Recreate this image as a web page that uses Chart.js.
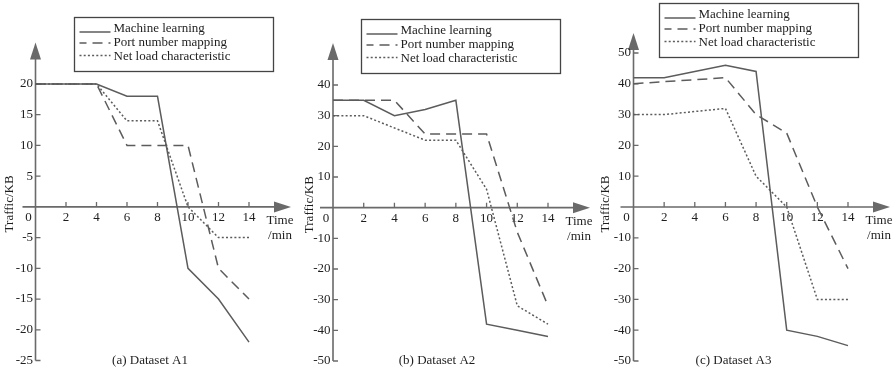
<!DOCTYPE html>
<html>
<head>
<meta charset="utf-8">
<title>Traffic per dataset</title>
<script src="https://cdn.jsdelivr.net/npm/chart.js@4.4.1/dist/chart.umd.min.js"></script>
<style>
  body { margin: 0; background: #fff; }
  #wrap { position: relative; width: 896px; height: 375px; overflow: hidden; }
  #wrap canvas { position: absolute; top: 0; }
</style>
</head>
<body>
<div id="wrap">
  <canvas id="chartA1" width="300" height="375" style="left:0px"></canvas>
  <canvas id="chartA2" width="300" height="375" style="left:300px"></canvas>
  <canvas id="chartA3" width="300" height="375" style="left:596px"></canvas>
</div>
<script>
// values (time in min, traffic in KB)
const timeMin = [0, 2, 4, 6, 8, 10, 12, 14];
const xTicks = [0, 2, 4, 6, 8, 10, 12, 14];
const seriesNames = ["Machine learning", "Port number mapping", "Net load characteristic"];

const a1Machine = [20, 20, 20, 18, 18, -10, -15, -22];
const a1Port = [20, 20, 20, 10, 10, 10, -10, -15];
const a1NetLoad = [20, 20, 20, 14, 14, 0, -5, -5];
const a1YTicks = [20, 15, 10, 5, 0, -5, -10, -15, -20, -25];

const a2Machine = [35, 35, 30, 32, 35, -38, -40, -42];
const a2Port = [35, 35, 35, 24, 24, 24, -8, -32];
const a2NetLoad = [30, 30, 26, 22, 22, 6, -32, -38];
const a2YTicks = [40, 30, 20, 10, 0, -10, -20, -30, -40, -50];

const a3Machine = [42, 42, 44, 46, 44, -40, -42, -45];
const a3Port = [40, 40.7, 41.3, 42, 30, 24, 0, -20];
const a3NetLoad = [30, 30, 31, 32, 10, 0, -30, -30];
const a3YTicks = [50, 40, 30, 20, 10, 0, -10, -20, -30, -40, -50];

const AXIS = "#6a6a6a";
const LINE = "#5c5c5c";
const TEXT = "#1e1e1e";
const FONT = "13px 'Liberation Serif', 'Times New Roman', serif";
const dashes = [[], [10, 6], [2, 2.2]];

// axes with arrow heads, crossing at the origin
const arrowAxes = {
  id: "arrowAxes",
  beforeDatasetsDraw(chart, args, opts) {
    const ctx = chart.ctx;
    const xs = chart.scales.x;
    const ys = chart.scales.y;
    const x0 = xs.getPixelForValue(0);
    const y0 = ys.getPixelForValue(0);
    const yTicks = opts.yTicks;
    const yBottom = ys.getPixelForValue(Math.min(...yTicks));
    const yTip = opts.arrowTop;
    const xTip = xs.right + 42;

    ctx.save();
    ctx.strokeStyle = AXIS;
    ctx.fillStyle = AXIS;
    ctx.lineWidth = 1.6;

    ctx.beginPath();
    ctx.moveTo(x0, yBottom);
    ctx.lineTo(x0, yTip + 12);
    ctx.moveTo(x0 - 13, y0);
    ctx.lineTo(xTip - 12, y0);
    ctx.stroke();

    ctx.beginPath();
    ctx.moveTo(x0, yTip);
    ctx.lineTo(x0 - 5.5, yTip + 17);
    ctx.lineTo(x0 + 5.5, yTip + 17);
    ctx.closePath();
    ctx.fill();

    ctx.beginPath();
    ctx.moveTo(xTip, y0);
    ctx.lineTo(xTip - 17, y0 - 5.5);
    ctx.lineTo(xTip - 17, y0 + 5.5);
    ctx.closePath();
    ctx.fill();

    // tick marks point inwards
    ctx.lineWidth = 1.3;
    ctx.beginPath();
    yTicks.forEach((v) => {
      if (v === 0) return;
      const py = ys.getPixelForValue(v);
      ctx.moveTo(x0, py);
      ctx.lineTo(x0 + 5, py);
    });
    xTicks.forEach((v) => {
      if (v === 0) return;
      const px = xs.getPixelForValue(v);
      ctx.moveTo(px, y0);
      ctx.lineTo(px, y0 - 5);
    });
    ctx.stroke();

    ctx.fillStyle = TEXT;
    ctx.font = FONT;
    ctx.textBaseline = "middle";
    ctx.textAlign = "right";
    yTicks.forEach((v) => {
      if (v === 0) return;
      ctx.fillText(String(v), x0 - 2.5, ys.getPixelForValue(v));
    });
    ctx.textAlign = "center";
    xTicks.forEach((v) => {
      const px = v === 0 ? x0 - 7 : xs.getPixelForValue(v);
      ctx.fillText(String(v), px, y0 + 10.5);
    });

    // axis titles
    ctx.fillText("Time", xs.right + 31, y0 + 14);
    ctx.fillText("/min", xs.right + 31, y0 + 29);
    ctx.save();
    ctx.translate(10, y0 - 3);
    ctx.rotate(-Math.PI / 2);
    ctx.fillText("Traffic/KB", 0, 0);
    ctx.restore();

    ctx.restore();
  },
  afterDraw(chart, args, opts) {
    const ctx = chart.ctx;
    const box = opts.legendBox;
    ctx.save();
    // legend frame
    ctx.strokeStyle = "#444";
    ctx.lineWidth = 1.3;
    ctx.strokeRect(box.x, box.y, 199, 54);
    ctx.font = FONT;
    ctx.textBaseline = "middle";
    ctx.textAlign = "left";
    const rows = [11.5, 25.5, 39.5];
    const lineOffset = [3, 0, -1.5];
    chart.data.datasets.forEach((ds, i) => {
      const cy = box.y + rows[i];
      ctx.strokeStyle = ds.borderColor;
      ctx.lineWidth = ds.borderWidth;
      ctx.setLineDash(ds.borderDash);
      ctx.lineDashOffset = i === 1 ? 3 : 0;
      ctx.beginPath();
      ctx.moveTo(box.x + 5, cy + lineOffset[i]);
      ctx.lineTo(box.x + 36, cy + lineOffset[i]);
      ctx.stroke();
      ctx.setLineDash([]);
      ctx.fillStyle = TEXT;
      ctx.fillText(ds.label, box.x + 39, cy);
    });
    // caption under the panel
    ctx.textAlign = "center";
    ctx.fillText(opts.caption, opts.captionX, 361);
    ctx.restore();
  },
};

function makePanel(canvasId, series, yTicks, layout) {
  const datasets = series.map((values, i) => ({
    label: seriesNames[i],
    data: timeMin.map((t, k) => ({ x: t, y: values[k] })),
    borderColor: LINE,
    borderWidth: 1.5,
    borderDash: dashes[i],
    pointRadius: 0,
    tension: 0,
    fill: false,
  }));
  return new Chart(document.getElementById(canvasId), {
    type: "line",
    data: { datasets },
    options: {
      responsive: false,
      animation: false,
      clip: false,
      layout: { padding: layout.padding },
      scales: {
        x: { type: "linear", display: false, min: 0, max: 14 },
        y: {
          type: "linear",
          display: false,
          min: Math.min(...yTicks),
          max: Math.max(...yTicks),
        },
      },
      plugins: {
        legend: { display: false },
        tooltip: { enabled: false },
        arrowAxes: {
          yTicks,
          arrowTop: layout.arrowTop,
          legendBox: layout.legendBox,
          caption: layout.caption,
          captionX: layout.captionX,
        },
      },
    },
    plugins: [arrowAxes],
  });
}

makePanel("chartA1", [a1Machine, a1Port, a1NetLoad], a1YTicks, {
  padding: { left: 35.5, right: 51, top: 84, bottom: 14.5 },
  arrowTop: 42.5,
  legendBox: { x: 74.5, y: 17.5 },
  caption: "(a) Dataset A1",
  captionX: 150,
});

makePanel("chartA2", [a2Machine, a2Port, a2NetLoad], a2YTicks, {
  padding: { left: 33, right: 52, top: 85, bottom: 14 },
  arrowTop: 43,
  legendBox: { x: 61.5, y: 19.5 },
  caption: "(b) Dataset A2",
  captionX: 137,
});

makePanel("chartA3", [a3Machine, a3Port, a3NetLoad], a3YTicks, {
  padding: { left: 37.5, right: 48, top: 53, bottom: 14 },
  arrowTop: 33,
  legendBox: { x: 63.5, y: 3.5 },
  caption: "(c) Dataset A3",
  captionX: 137.5,
});
</script>
</body>
</html>
